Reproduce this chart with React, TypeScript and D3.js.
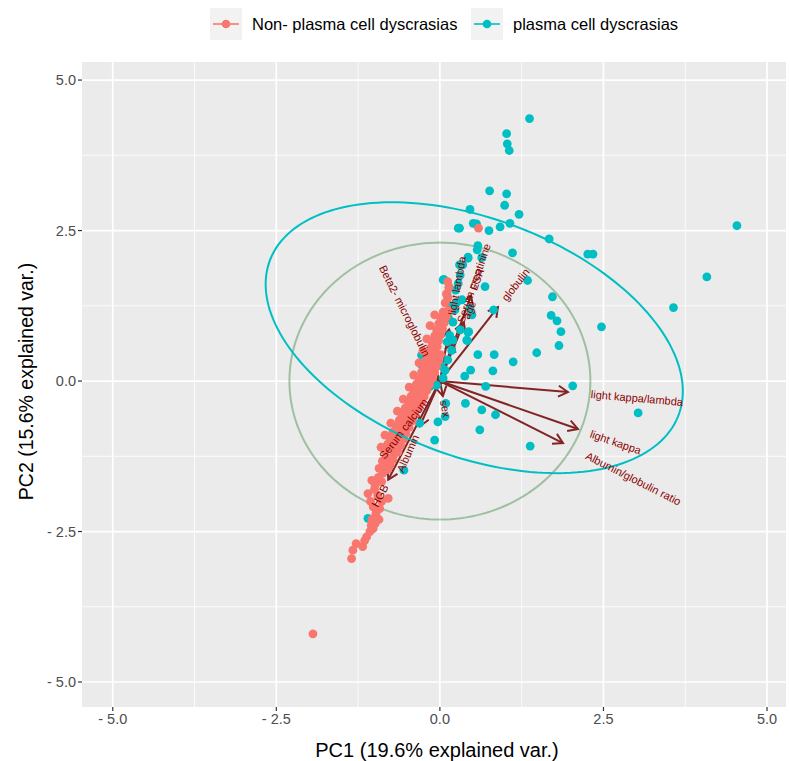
import * as d3 from "d3";
import { useEffect, useRef } from "react";

const groups = ["Non- plasma cell dyscrasias", "plasma cell dyscrasias"];
const groupColors = ["#F8766D", "#00BFC4"];

// PC1 / PC2 scores
const nonPlasmaScores: [number, number][] = [
  [-1.94, -4.2],
  [-1.35, -2.95], [-1.33, -2.81], [-1.18, -2.75], [-1.12, -2.59], [-1.07, -2.5],
  [-1.02, -2.45], [-0.99, -2.37], [-1.04, -2.3], [-0.98, -2.22], [-0.97, -2.17],
  [-1.02, -2.09], [-0.89, -2.0], [-0.79, -1.95], [-1.1, -1.87], [-1.0, -1.8],
  [-0.99, -1.73], [-0.89, -1.67], [-0.94, -1.6], [-0.87, -1.53], [-0.8, -1.47],
  [-0.82, -1.4], [-0.75, -1.33], [-0.82, -1.26], [-0.7, -1.22],
  [-1.28, -2.7], [-1.15, -2.65], [-1.05, -2.4], [-0.93, -2.3], [-0.92, -2.12],
  [-1.06, -2.0], [-0.95, -1.9], [-1.04, -1.65], [-0.93, -1.45], [-0.88, -1.33],
  [-0.76, -1.4], [-0.72, -1.3],
  [-0.84, -1.15], [-0.72, -1.13], [-0.64, -1.18], [-0.9, -1.1],
  [-0.8, -1.05], [-0.69, -1.03], [-0.6, -1.07],
  [-0.76, -0.95], [-0.65, -0.93], [-0.56, -0.97], [-0.84, -0.9],
  [-0.72, -0.85], [-0.61, -0.83], [-0.52, -0.87],
  [-0.67, -0.75], [-0.56, -0.73], [-0.47, -0.77], [-0.75, -0.7],
  [-0.62, -0.65], [-0.51, -0.63], [-0.42, -0.66],
  [-0.58, -0.55], [-0.47, -0.53], [-0.38, -0.56], [-0.65, -0.5],
  [-0.53, -0.45], [-0.42, -0.43], [-0.33, -0.46],
  [-0.48, -0.35], [-0.37, -0.33], [-0.28, -0.36], [-0.56, -0.3],
  [-0.44, -0.25], [-0.33, -0.23], [-0.24, -0.26],
  [-0.4, -0.15], [-0.29, -0.13], [-0.2, -0.16], [-0.47, -0.1],
  [-0.36, -0.05], [-0.25, -0.03], [-0.16, -0.06],
  [-0.32, 0.05], [-0.21, 0.07], [-0.12, 0.04], [-0.4, 0.1],
  [-0.28, 0.15], [-0.17, 0.17], [-0.08, 0.14],
  [-0.24, 0.25], [-0.13, 0.27], [-0.05, 0.24], [-0.32, 0.3],
  [-0.21, 0.35], [-0.1, 0.37], [-0.02, 0.34],
  [-0.18, 0.45], [-0.07, 0.47], [0.01, 0.44], [-0.26, 0.5],
  [-0.14, 0.55], [-0.04, 0.57],
  [-0.12, 0.65], [-0.02, 0.67], [-0.2, 0.7],
  [-0.08, 0.75], [0.01, 0.77],
  [-0.05, 0.85], [0.04, 0.87], [-0.15, 0.92],
  [-0.02, 0.95], [0.07, 0.97],
  [0.01, 1.05], [0.1, 1.07], [-0.08, 1.1],
  [0.05, 1.15], [0.13, 1.17],
  [0.08, 1.3], [0.12, 1.38], [0.1, 1.45], [0.14, 1.55], [0.12, 1.65],
  [0.59, 2.54],
];

const plasmaScores: [number, number][] = [
  [1.24, 5.43], [1.37, 4.36], [1.02, 4.11], [1.03, 3.94], [1.06, 3.83],
  [0.76, 3.16], [1.02, 3.11], [0.99, 2.92], [0.46, 2.85], [1.21, 2.77],
  [0.51, 2.62], [0.56, 2.61], [1.07, 2.62], [0.3, 2.54], [0.75, 2.5],
  [0.92, 2.56], [1.67, 2.36], [2.26, 2.11], [2.34, 2.11], [4.54, 2.58],
  [4.08, 1.73], [0.58, 2.25], [1.11, 2.13], [0.64, 2.05], [0.43, 2.06],
  [0.3, 1.93], [0.06, 1.69], [0.69, 1.57], [1.34, 1.67], [1.72, 1.4],
  [3.57, 1.22], [1.7, 1.09], [1.79, 1.0], [1.85, 0.82], [1.82, 0.59],
  [2.47, 0.9], [1.48, 0.47], [0.58, 0.44], [0.83, 0.44], [1.12, 0.32],
  [0.47, 0.18], [0.81, 0.17], [0.38, 0.08], [0.7, -0.09], [2.03, -0.08],
  [3.03, -0.53], [0.09, -0.37], [0.39, -0.37], [0.64, -0.48], [0.85, -0.56],
  [0.08, -0.59], [0.61, -0.81], [1.38, -1.08], [0.44, 0.82], [0.42, 0.67],
  [0.82, 1.18],
  [-0.28, 0.43], [-0.28, 0.27], [-0.15, -0.09], [-0.03, -0.68], [-0.08, -0.98],
  [-0.31, -0.34], [-0.31, -0.7], [-0.55, -1.48], [-1.1, -2.28], [-0.05, -0.07],
  [0.28, 2.54], [0.05, 1.68], [0.14, 1.56], [0.11, 1.43], [0.35, 1.93],
  [0.31, 1.76], [0.43, 2.04], [0.57, 2.18], [0.46, 1.21], [0.49, 1.1],
  [0.43, 0.81], [0.41, 0.68], [0.26, 1.31], [0.2, 0.98], [0.15, 0.76],
  [0.11, 0.65], [0.23, 1.18], [0.18, 0.51], [0.12, 0.35], [0.08, 0.18],
  [0.05, 0.05], [0.2, 0.68], [0.31, 0.85], [0.24, 1.51], [0.34, 1.35],
  [0.17, 1.25], [0.13, 1.05], [0.28, 1.62], [0.02, 0.25],
];

// variable loadings (arrow tips)
const varNames = [
  "light kappa/lambda", "light kappa", "Albumin/globulin ratio", "globulin",
  "light lambda", "Serum creatinine", "age", "ESR", "Beta2- microglobulin",
  "Serum calcium", "Albumin", "HGB", "sex",
];
const loadPC1 = [1.957, 2.11, 1.881, 0.887, 0.141, 0.206, 0.367, 0.476, -0.023, -0.049, -0.306, -0.79, 0.046];
const loadPC2 = [-0.183, -0.797, -1.03, 1.229, 0.855, 0.648, 0.97, 1.424, 0.05, -0.07, -0.75, -1.64, -0.25];

const majorBreaks = [-5, -2.5, 0, 2.5, 5];
const minorBreaks = [-3.75, -1.25, 1.25, 3.75];
const tickLabels = ["- 5.0", "- 2.5", "0.0", "2.5", "5.0"];

const circleRadius = 2.3;
const ellipseCenter = [0.525, 0.72];
const ellipseAxes = [3.38, 1.95];
const ellipseTilt = -24;

export default function App() {
  const ref = useRef<SVGSVGElement>(null);

  useEffect(() => {
    const svg = d3.select(ref.current);
    svg.selectAll("*").remove();

    const left = 82, right = 786, top = 62, bottom = 707;
    const x = d3.scaleLinear().domain([-5.47, 5.29]).range([left, right]);
    const y = d3.scaleLinear().domain([-5.415, 5.3]).range([bottom, top]);

    svg.append("defs").append("clipPath").attr("id", "panel")
      .append("rect").attr("x", left).attr("y", top)
      .attr("width", right - left).attr("height", bottom - top);

    svg.append("rect").attr("x", left).attr("y", top)
      .attr("width", right - left).attr("height", bottom - top)
      .attr("fill", "#EBEBEB");

    const grid = svg.append("g").attr("stroke", "#fff");
    minorBreaks.forEach((v) => {
      grid.append("line").attr("x1", x(v)).attr("x2", x(v)).attr("y1", top).attr("y2", bottom).attr("stroke-width", 0.8);
      grid.append("line").attr("y1", y(v)).attr("y2", y(v)).attr("x1", left).attr("x2", right).attr("stroke-width", 0.8);
    });
    majorBreaks.forEach((v) => {
      grid.append("line").attr("x1", x(v)).attr("x2", x(v)).attr("y1", top).attr("y2", bottom).attr("stroke-width", 1.7);
      grid.append("line").attr("y1", y(v)).attr("y2", y(v)).attr("x1", left).attr("x2", right).attr("stroke-width", 1.7);
    });

    const plot = svg.append("g").attr("clip-path", "url(#panel)");
    const line = d3.line<[number, number]>().x((d) => x(d[0])).y((d) => y(d[1]));
    const angles = d3.range(0, 361, 2).map((a) => (a * Math.PI) / 180);

    // correlation circle
    plot.append("path")
      .attr("d", line(angles.map((t) => [circleRadius * Math.cos(t), circleRadius * Math.sin(t)])))
      .attr("fill", "none").attr("stroke", "#2E7D32").attr("stroke-opacity", 0.4)
      .attr("stroke-width", 2);

    // arrows
    const ox = x(0), oy = y(0);
    const arrowCol = "#832424";
    varNames.forEach((name, i) => {
      const tx = x(loadPC1[i]), ty = y(loadPC2[i]);
      const len = Math.hypot(tx - ox, ty - oy);
      const ux = (tx - ox) / len, uy = (ty - oy) / len;
      const L = 11, a = Math.PI / 6;
      const h1 = [tx - L * (ux * Math.cos(a) - uy * Math.sin(a)), ty - L * (ux * Math.sin(a) + uy * Math.cos(a))];
      const h2 = [tx - L * (ux * Math.cos(-a) - uy * Math.sin(-a)), ty - L * (ux * Math.sin(-a) + uy * Math.cos(-a))];
      plot.append("line").attr("x1", ox).attr("y1", oy).attr("x2", tx).attr("y2", ty)
        .attr("stroke", arrowCol).attr("stroke-width", 2);
      plot.append("path").attr("d", `M${h1[0]},${h1[1]}L${tx},${ty}L${h2[0]},${h2[1]}`)
        .attr("fill", "none").attr("stroke", arrowCol).attr("stroke-width", 2);
    });

    // points
    const pts = [
      ...plasmaScores.map((d) => ({ d, g: 1 })),
      ...nonPlasmaScores.map((d) => ({ d, g: 0 })),
    ];
    plot.append("g").selectAll("circle").data(pts).join("circle")
      .attr("cx", (p) => x(p.d[0])).attr("cy", (p) => y(p.d[1])).attr("r", 4.4)
      .attr("fill", (p) => groupColors[p.g]);

    // group ellipse
    const th = (ellipseTilt * Math.PI) / 180;
    plot.append("path")
      .attr("d", line(angles.map((t) => [
        ellipseCenter[0] + ellipseAxes[0] * Math.cos(t) * Math.cos(th) - ellipseAxes[1] * Math.sin(t) * Math.sin(th),
        ellipseCenter[1] + ellipseAxes[0] * Math.cos(t) * Math.sin(th) + ellipseAxes[1] * Math.sin(t) * Math.cos(th),
      ])))
      .attr("fill", "none").attr("stroke", groupColors[1]).attr("stroke-width", 2);

    // variable labels
    varNames.forEach((name, i) => {
      const tx = x(loadPC1[i]), ty = y(loadPC2[i]);
      const neg = loadPC1[i] < 0;
      const dx = neg ? ox - tx : tx - ox, dy = neg ? oy - ty : ty - oy;
      const ang = (Math.atan2(dy, dx) * 180) / Math.PI;
      const t = plot.append("text").text(name)
        .attr("font-size", 11).attr("fill", "#8B0000")
        .attr("dominant-baseline", "central")
        .attr("text-anchor", neg ? "end" : "start");
      const w = (t.node() as SVGTextElement).getComputedTextLength();
      t.attr("transform", `translate(${tx},${ty}) rotate(${ang}) translate(${neg ? -0.25 * w : 0.25 * w},0)`);
    });

    // axes
    const axisG = svg.append("g").attr("fill", "#4D4D4D").attr("font-size", 14.5);
    majorBreaks.forEach((v, i) => {
      axisG.append("line").attr("x1", x(v)).attr("x2", x(v)).attr("y1", bottom).attr("y2", bottom + 4)
        .attr("stroke", "#333").attr("stroke-width", 1.2);
      axisG.append("text").attr("x", x(v)).attr("y", bottom + 17).attr("text-anchor", "middle").text(tickLabels[i]);
      axisG.append("line").attr("x1", left - 4).attr("x2", left).attr("y1", y(v)).attr("y2", y(v))
        .attr("stroke", "#333").attr("stroke-width", 1.2);
      axisG.append("text").attr("x", left - 6).attr("y", y(v) + 5).attr("text-anchor", "end").text(tickLabels[i]);
    });

    svg.append("text").attr("x", (left + right) / 2 + 3).attr("y", 757)
      .attr("text-anchor", "middle").attr("font-size", 20).text("PC1 (19.6% explained var.)");
    svg.append("text").attr("transform", `translate(33,${(top + bottom) / 2 - 3}) rotate(-90)`)
      .attr("text-anchor", "middle").attr("font-size", 19.5).text("PC2 (15.6% explained var.)");

    // legend
    const keyX = [210, 471];
    groups.forEach((g, i) => {
      const lg = svg.append("g").attr("transform", `translate(${keyX[i]},8)`);
      lg.append("rect").attr("width", 32).attr("height", 32).attr("fill", "#F2F2F2");
      lg.append("line").attr("x1", 3).attr("x2", 29).attr("y1", 16).attr("y2", 16)
        .attr("stroke", groupColors[i]).attr("stroke-width", 1.6);
      lg.append("circle").attr("cx", 16).attr("cy", 16).attr("r", 4.3).attr("fill", groupColors[i]);
      lg.append("text").attr("x", 42).attr("y", 16).attr("dominant-baseline", "central")
        .attr("font-size", 16.5).text(g);
    });
  }, []);

  return (
    <svg
      ref={ref}
      width={790}
      height={761}
      style={{ position: "absolute", left: 0, top: 0, background: "#fff", fontFamily: "'Liberation Sans', Arial, sans-serif" }}
    />
  );
}
